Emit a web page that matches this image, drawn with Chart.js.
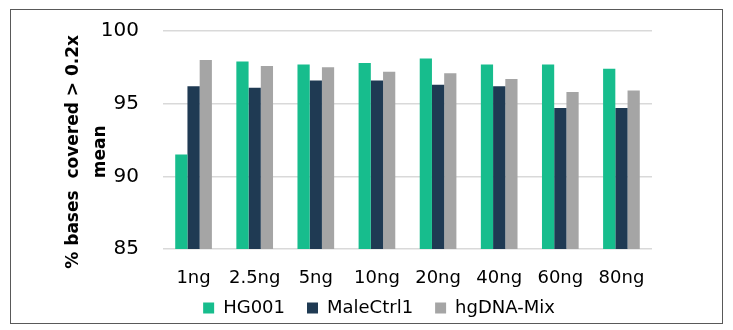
<!DOCTYPE html>
<html>
<head>
<meta charset="utf-8">
<script src="https://cdn.jsdelivr.net/npm/chart.js@4/dist/chart.umd.min.js"></script>
<style>
html,body{margin:0;padding:0;background:#fff;}
#wrap{width:733px;height:330px;position:relative;}
</style>
</head>
<body>
<div id="wrap"><canvas id="c" width="733" height="330"></canvas></div>
<script>
const categories = ["1ng","2.5ng","5ng","10ng","20ng","40ng","60ng","80ng"];
const hg001 = [91.5, 97.9, 97.7, 97.8, 98.1, 97.7, 97.7, 97.4];
const maleCtrl1 = [96.2, 96.1, 96.6, 96.6, 96.3, 96.2, 94.7, 94.7];
const hgDNAMix = [98.0, 97.6, 97.5, 97.2, 97.1, 96.7, 95.8, 95.9];
const seriesNames = ["HG001","MaleCtrl1","hgDNA-Mix"];
const yTicks = [85, 90, 95, 100];

const FONT = "'DejaVu Sans', sans-serif";
const LEGEND_SHIFT = 23;
const LEGEND_TOP = 277;

const layoutPlugin = {
  id: 'layoutTweaks',
  beforeLayout(chart) {
    const lg = chart.legend;
    if (lg && !lg._fixedFit) {
      const orig = lg.fit.bind(lg);
      lg.fit = function() { orig(); this.height = 35; };
      lg._fixedFit = true;
    }
  },
  afterLayout(chart) {
    const lg = chart.legend;
    if (lg) {
      lg.top = LEGEND_TOP;
      lg.bottom = chart.height;
      lg.height = chart.height - LEGEND_TOP;
      lg.left += LEGEND_SHIFT;
      lg.right += LEGEND_SHIFT;
    }
  },
  afterDraw(chart) {
    const ctx = chart.ctx;
    ctx.save();
    ctx.strokeStyle = '#595959';
    ctx.lineWidth = 1;
    ctx.strokeRect(10.5, 9.5, 712, 314);
    ctx.restore();
  }
};

new Chart(document.getElementById('c'), {
  type: 'bar',
  data: {
    labels: categories,
    datasets: [
      {label: seriesNames[0], data: hg001, backgroundColor: '#17BD8D'},
      {label: seriesNames[1], data: maleCtrl1, backgroundColor: '#1F3A53'},
      {label: seriesNames[2], data: hgDNAMix, backgroundColor: '#A5A5A5'}
    ]
  },
  options: {
    responsive: false,
    animation: false,
    devicePixelRatio: 1,
    layout: {padding: {left: 60, right: 81, top: 31, bottom: 0}},
    datasets: {bar: {categoryPercentage: 0.6, barPercentage: 1.0}},
    plugins: {
      legend: {
        position: 'bottom',
        labels: {
          font: {family: FONT, size: 18},
          color: '#000',
          boxWidth: 11,
          boxHeight: 11,
          padding: 22
        }
      },
      tooltip: {enabled: false}
    },
    scales: {
      x: {
        grid: {display: false},
        border: {display: false},
        ticks: {font: {family: FONT, size: 18}, color: '#000', padding: 11, maxRotation: 0},
        afterFit(scale) { scale.height = 46; }
      },
      y: {
        min: 85, max: 100,
        afterBuildTicks(scale) { scale.ticks = yTicks.map(v => ({value: v})); },
        grid: {color: '#d9d9d9', lineWidth: 1.5, drawTicks: false},
        border: {display: false},
        ticks: {font: {family: FONT, size: 20}, color: '#000', padding: 24},
        title: {
          display: true,
          text: ['% bases  covered > 0.2x    ', 'mean    '],
          font: {family: FONT, size: 17, weight: 'bold', lineHeight: 1.6},
          color: '#000',
          padding: {top: 0, bottom: 0}
        },
        afterFit(scale) { scale.width = 103; scale.paddingTop = 0; scale.paddingBottom = 0; }
      }
    }
  },
  plugins: [layoutPlugin]
});
</script>
</body>
</html>
